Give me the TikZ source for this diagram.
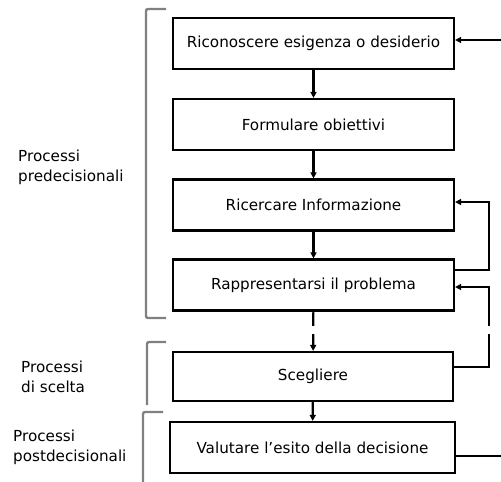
\documentclass[tikz,border=0pt]{standalone}
\usepackage{fontspec}
\setmainfont{DejaVu Sans}
\usetikzlibrary{arrows.meta}
\begin{document}
\begin{tikzpicture}[x=1pt,y=-1pt,
  stepbox/.style={draw=black,line width=2.2pt,minimum height=51pt,inner sep=0pt,font=\fontsize{15.2}{18}\selectfont},
  flow/.style={line width=2.2pt,-{Triangle[length=6pt,width=6pt]}},
  back/.style={line width=1.8pt,-{Triangle[length=6pt,width=6pt]}},
  brk/.style={draw=black!50,line width=2.4pt,rounded corners=2pt},
  lab/.style={anchor=west,align=left,inner sep=0pt,font=\fontsize{15.2}{20}\selectfont}]
\useasboundingbox (0,0) rectangle (501,482);
\node[stepbox,minimum width=281pt] (b1) at (313.5,43.5) {Riconoscere esigenza o desiderio};
\node[stepbox,minimum width=281pt] (b2) at (313.5,124.5) {Formulare obiettivi};
\node[stepbox,minimum width=281pt] (b3) at (313.5,205) {Ricercare Informazione};
\node[stepbox,minimum width=281pt] (b4) at (313.5,285) {Rappresentarsi il problema};
\node[stepbox,minimum width=280pt,minimum height=49pt] (b5) at (313,376.5) {Scegliere};
\node[stepbox,minimum width=285pt] (b6) at (312.5,447.5) {Valutare l’esito della decisione};
\draw[flow] (b1) -- (b2);
\draw[flow] (b2) -- (b3);
\draw[flow] (b3) -- (b4);
\draw[flow] (b4) -- (b5);
\draw[flow] (b5) -- (b6);
\coordinate (r1) at (501,456);
\coordinate (r2) at (501,40);
\draw[line width=1.8pt] ([yshift=-8.5pt]b6.east) -- (r1);
\draw[back] (r2) -- ([yshift=3.5pt]b1.east);
\draw[back] ([yshift=15pt]b4.east) -- ++(34,0) |- ([yshift=3pt]b3.east);
\draw[back] ([yshift=9.5pt]b5.east) -- ++(35,0) |- ([yshift=-2pt]b4.east);
\fill[white] (300,326) rectangle (497,334);
\draw[brk] (166,9) -- (146,9) -- (146,318) -- (166,318);
\draw[brk] (166,342) -- (147,342) -- (147,405);
\draw[brk] (163,412) -- (143,412) -- (143,482);
\node[lab] (l1) at (18,167) {Processi\\predecisionali};
\node[lab] (l2) at (21,377) {Processi\\di scelta};
\node[lab] (l3) at (13,447) {Processi\\postdecisionali};
\end{tikzpicture}
\end{document}
